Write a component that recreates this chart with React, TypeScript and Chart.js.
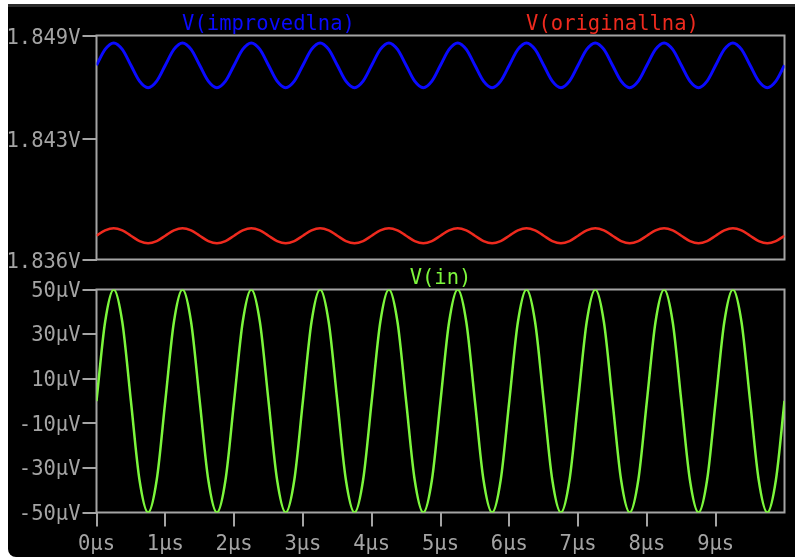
import { useEffect, useRef } from "react";
import { Chart, registerables } from "chart.js";

Chart.register(...registerables);

// time axis, µs
const TIME_US = [
  0, 0.125, 0.25, 0.375, 0.5, 0.625, 0.75, 0.875,
  1, 1.125, 1.25, 1.375, 1.5, 1.625, 1.75, 1.875,
  2, 2.125, 2.25, 2.375, 2.5, 2.625, 2.75, 2.875,
  3, 3.125, 3.25, 3.375, 3.5, 3.625, 3.75, 3.875,
  4, 4.125, 4.25, 4.375, 4.5, 4.625, 4.75, 4.875,
  5, 5.125, 5.25, 5.375, 5.5, 5.625, 5.75, 5.875,
  6, 6.125, 6.25, 6.375, 6.5, 6.625, 6.75, 6.875,
  7, 7.125, 7.25, 7.375, 7.5, 7.625, 7.75, 7.875,
  8, 8.125, 8.25, 8.375, 8.5, 8.625, 8.75, 8.875,
  9, 9.125, 9.25, 9.375, 9.5, 9.625, 9.75, 9.875,
  10,
];

// V(improvedlna), volts
const IMPROVED_V = [
  1.84727, 1.84819, 1.84857, 1.84819, 1.84727, 1.84635, 1.84597, 1.84635,
  1.84727, 1.84819, 1.84857, 1.84819, 1.84727, 1.84635, 1.84597, 1.84635,
  1.84727, 1.84819, 1.84857, 1.84819, 1.84727, 1.84635, 1.84597, 1.84635,
  1.84727, 1.84819, 1.84857, 1.84819, 1.84727, 1.84635, 1.84597, 1.84635,
  1.84727, 1.84819, 1.84857, 1.84819, 1.84727, 1.84635, 1.84597, 1.84635,
  1.84727, 1.84819, 1.84857, 1.84819, 1.84727, 1.84635, 1.84597, 1.84635,
  1.84727, 1.84819, 1.84857, 1.84819, 1.84727, 1.84635, 1.84597, 1.84635,
  1.84727, 1.84819, 1.84857, 1.84819, 1.84727, 1.84635, 1.84597, 1.84635,
  1.84727, 1.84819, 1.84857, 1.84819, 1.84727, 1.84635, 1.84597, 1.84635,
  1.84727, 1.84819, 1.84857, 1.84819, 1.84727, 1.84635, 1.84597, 1.84635,
  1.84727,
];

// V(originallna), volts
const ORIGINAL_V = [
  1.83738, 1.83769, 1.83782, 1.83769, 1.83738, 1.83707, 1.83694, 1.83707,
  1.83738, 1.83769, 1.83782, 1.83769, 1.83738, 1.83707, 1.83694, 1.83707,
  1.83738, 1.83769, 1.83782, 1.83769, 1.83738, 1.83707, 1.83694, 1.83707,
  1.83738, 1.83769, 1.83782, 1.83769, 1.83738, 1.83707, 1.83694, 1.83707,
  1.83738, 1.83769, 1.83782, 1.83769, 1.83738, 1.83707, 1.83694, 1.83707,
  1.83738, 1.83769, 1.83782, 1.83769, 1.83738, 1.83707, 1.83694, 1.83707,
  1.83738, 1.83769, 1.83782, 1.83769, 1.83738, 1.83707, 1.83694, 1.83707,
  1.83738, 1.83769, 1.83782, 1.83769, 1.83738, 1.83707, 1.83694, 1.83707,
  1.83738, 1.83769, 1.83782, 1.83769, 1.83738, 1.83707, 1.83694, 1.83707,
  1.83738, 1.83769, 1.83782, 1.83769, 1.83738, 1.83707, 1.83694, 1.83707,
  1.83738,
];

// V(in), µV
const IN_UV = [
  0, 35.4, 50, 35.4, 0, -35.4, -50, -35.4,
  0, 35.4, 50, 35.4, 0, -35.4, -50, -35.4,
  0, 35.4, 50, 35.4, 0, -35.4, -50, -35.4,
  0, 35.4, 50, 35.4, 0, -35.4, -50, -35.4,
  0, 35.4, 50, 35.4, 0, -35.4, -50, -35.4,
  0, 35.4, 50, 35.4, 0, -35.4, -50, -35.4,
  0, 35.4, 50, 35.4, 0, -35.4, -50, -35.4,
  0, 35.4, 50, 35.4, 0, -35.4, -50, -35.4,
  0, 35.4, 50, 35.4, 0, -35.4, -50, -35.4,
  0, 35.4, 50, 35.4, 0, -35.4, -50, -35.4,
  0,
];

const TOP_Y_TICKS = [1.836, 1.843, 1.849];
const BOTTOM_Y_TICKS = [-50, -30, -10, 10, 30, 50];
const X_TICKS = [0, 1, 2, 3, 4, 5, 6, 7, 8, 9];
const TOP_LABELS = ["V(improvedlna)", "V(originallna)"];
const BOTTOM_LABEL = "V(in)";

const FONT = "'DejaVu Sans Mono', monospace";
const FONT_SIZE = 20.5;
const GRAY = "#a4a4a4";
const BLUE = "#0a0aff";
const RED = "#ee2a1e";
const GREEN = "#7cf63c";

const framePlugin = {
  id: "frame",
  beforeDatasetsDraw(chart: any) {
    const { ctx, chartArea } = chart;
    const { left, top, right, bottom } = chartArea;
    ctx.save();
    ctx.strokeStyle = GRAY;
    ctx.lineWidth = 2;
    ctx.strokeRect(left, top, right - left, bottom - top);
    ctx.restore();
  },
};

const traceLabelPlugin = {
  id: "traceLabels",
  afterDraw(chart: any) {
    const { ctx, chartArea } = chart;
    const sets = chart.data.datasets;
    const n = sets.length;
    const w = chartArea.right - chartArea.left;
    ctx.save();
    ctx.font = `${FONT_SIZE}px ${FONT}`;
    ctx.textAlign = "center";
    ctx.textBaseline = "alphabetic";
    sets.forEach((ds: any, i: number) => {
      ctx.fillStyle = ds.borderColor;
      ctx.fillText(ds.label, chartArea.left + (w * (i + 0.5)) / n, chartArea.top - 6);
    });
    ctx.restore();
  },
};

const pts = (ys: number[]) => TIME_US.map((t, i) => ({ x: t, y: ys[i] }));

const yAxisCommon = {
  type: "linear" as const,
  afterFit: (s: any) => {
    s.width = 96.5;
  },
  grid: { drawOnChartArea: false, tickLength: 14, color: GRAY, lineWidth: 2 },
  border: { display: false },
};

export default function App() {
  const topRef = useRef<HTMLCanvasElement>(null);
  const botRef = useRef<HTMLCanvasElement>(null);

  useEffect(() => {
    const top = new Chart(topRef.current!, {
      type: "line",
      data: {
        datasets: [
          {
            label: TOP_LABELS[0],
            data: pts(IMPROVED_V),
            borderColor: BLUE,
            borderWidth: 3,
            pointRadius: 0,
            cubicInterpolationMode: "monotone",
          },
          {
            label: TOP_LABELS[1],
            data: pts(ORIGINAL_V),
            borderColor: RED,
            borderWidth: 2.5,
            pointRadius: 0,
            cubicInterpolationMode: "monotone",
          },
        ],
      },
      options: {
        responsive: false,
        animation: false,
        layout: { padding: { top: 35.5, right: 10.5, bottom: 20.5, left: 0 } },
        plugins: { legend: { display: false }, tooltip: { enabled: false } },
        scales: {
          x: { type: "linear", min: 0, max: 10, display: false },
          y: {
            ...yAxisCommon,
            min: 1.836,
            max: 1.849,
            afterBuildTicks: (s: any) => {
              s.ticks = TOP_Y_TICKS.map((v) => ({ value: v }));
            },
            ticks: {
              color: GRAY,
              font: { family: FONT, size: FONT_SIZE },
              padding: 2,
              labelOffset: 3,
              callback: (v: any) => `${Number(v).toFixed(3)}V`,
            },
          },
        },
      },
      plugins: [framePlugin, traceLabelPlugin],
    } as any);

    const bot = new Chart(botRef.current!, {
      type: "line",
      data: {
        datasets: [
          {
            label: BOTTOM_LABEL,
            data: pts(IN_UV),
            borderColor: GREEN,
            borderWidth: 2.5,
            pointRadius: 0,
            cubicInterpolationMode: "monotone",
          },
        ],
      },
      options: {
        responsive: false,
        animation: false,
        layout: { padding: { top: 23.5, right: 10.5, bottom: 0, left: 0 } },
        plugins: { legend: { display: false }, tooltip: { enabled: false } },
        scales: {
          x: {
            type: "linear",
            min: 0,
            max: 10,
            afterFit: (s: any) => {
              s.height = 44.5;
            },
            afterBuildTicks: (s: any) => {
              s.ticks = X_TICKS.map((v) => ({ value: v }));
            },
            grid: { drawOnChartArea: false, tickLength: 14, color: GRAY, lineWidth: 2 },
            border: { display: false },
            ticks: {
              color: GRAY,
              font: { family: FONT, size: FONT_SIZE },
              padding: 6,
              maxRotation: 0,
              autoSkip: false,
              callback: (v: any) => `${v}µs`,
            },
          },
          y: {
            ...yAxisCommon,
            min: -50,
            max: 50,
            afterBuildTicks: (s: any) => {
              s.ticks = BOTTOM_Y_TICKS.map((v) => ({ value: v }));
            },
            ticks: {
              color: GRAY,
              font: { family: FONT, size: FONT_SIZE },
              padding: 2,
              labelOffset: 2,
              callback: (v: any) => `${v}µV`,
            },
          },
        },
      },
      plugins: [framePlugin, traceLabelPlugin],
    } as any);

    return () => {
      top.destroy();
      bot.destroy();
    };
  }, []);

  return (
    <div style={{ position: "absolute", left: 0, top: 0, width: 795, height: 557, overflow: "hidden" }}>
      <div
        style={{
          position: "absolute",
          left: 8,
          top: 4,
          width: 787,
          height: 553,
          background: "#000",
          borderTop: "3px solid #2b2b2b",
          borderBottomLeftRadius: 8,
          boxSizing: "border-box",
        }}
      />
      <canvas ref={topRef} width={795} height={280} style={{ position: "absolute", left: 0, top: 0 }} />
      <canvas ref={botRef} width={795} height={291} style={{ position: "absolute", left: 0, top: 266 }} />
    </div>
  );
}
